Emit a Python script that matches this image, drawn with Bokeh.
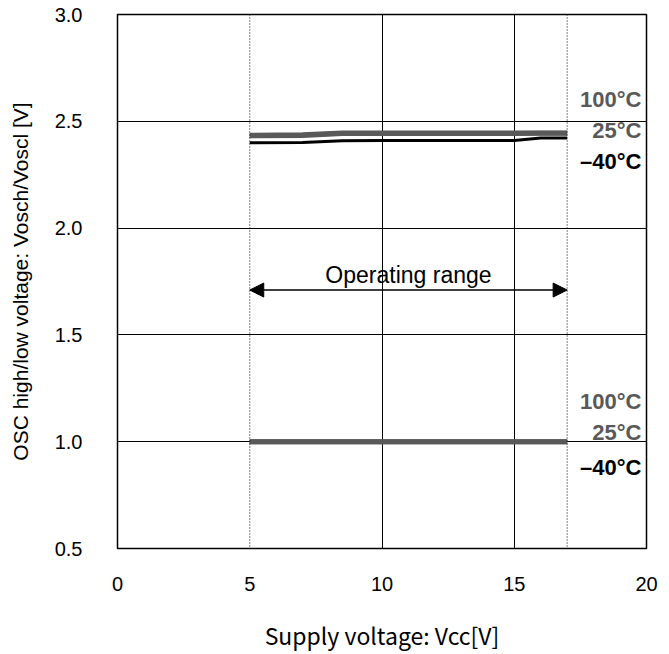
from bokeh.plotting import figure
from bokeh.models import (FixedTicker, PrintfTickFormatter, Span, Arrow, NormalHead, Label)
from bokeh.embed import file_html
from bokeh.resources import INLINE

# data
vcc = [5, 7, 8.5, 10, 15, 16, 17]
vosch_100 = [2.435, 2.437, 2.445, 2.445, 2.445, 2.445, 2.445]
vosch_25 = [2.432, 2.434, 2.443, 2.443, 2.443, 2.444, 2.444]
vosch_m40 = [2.400, 2.401, 2.409, 2.410, 2.410, 2.422, 2.422]
voscl_100 = [1.0, 1.0, 1.0, 1.0, 1.0, 1.0, 1.0]
voscl_25 = [1.0, 1.0, 1.0, 1.0, 1.0, 1.0, 1.0]
voscl_m40 = [0.999, 0.999, 0.999, 0.999, 0.999, 0.999, 0.999]
x_ticks = [0, 5, 10, 15, 20]
y_ticks = [0.5, 1.0, 1.5, 2.0, 2.5, 3.0]
op_range = [5, 17]
temps = ["100°C", "25°C", "\u201340°C"]
label_y_high = [2.60, 2.455, 2.31]
label_y_low = [1.19, 1.045, 0.88]

GRAY = "#595959"

p = figure(width=669, height=654, x_range=(0, 20), y_range=(0.5, 3.0),
           output_backend="svg", toolbar_location=None,
           min_border_left=117, min_border_right=23, min_border_top=14, min_border_bottom=106)

p.outline_line_color = "black"
p.outline_line_width = 1.5
p.background_fill_color = "white"
p.border_fill_color = "white"

p.xaxis.ticker = FixedTicker(ticks=x_ticks)
p.yaxis.ticker = FixedTicker(ticks=y_ticks)
p.yaxis.formatter = PrintfTickFormatter(format="%.1f")
for ax in (p.xaxis, p.yaxis):
    ax.axis_line_color = None
    ax.major_tick_line_color = None
    ax.minor_tick_line_color = None
    ax.major_label_text_font = "Liberation Sans"
    ax.major_label_text_font_size = "20px"
    ax.major_label_text_color = "black"
    ax.axis_label_text_font_style = "normal"
    ax.axis_label_text_color = "black"
p.xaxis.major_label_standoff = 22
p.yaxis.major_label_standoff = 29

p.xaxis.axis_label = "Supply voltage: Vcc[V]"
p.xaxis.axis_label_text_font = "Noto Sans CJK JP"
p.xaxis.axis_label_text_font_size = "23px"
p.xaxis.axis_label_standoff = 24
p.yaxis.axis_label = "OSC high/low voltage: Vosch/Voscl [V]"
p.yaxis.axis_label_text_font = "Liberation Sans"
p.yaxis.axis_label_text_font_size = "21px"
p.yaxis.axis_label_standoff = 20

p.xgrid.ticker = FixedTicker(ticks=[10, 15])
p.ygrid.ticker = FixedTicker(ticks=[1.0, 1.5, 2.0, 2.5])
p.xgrid.grid_line_color = "black"
p.ygrid.grid_line_color = "black"
p.xgrid.grid_line_width = 1
p.ygrid.grid_line_width = 1

for xv in op_range:
    p.add_layout(Span(location=xv, dimension="height", line_color="black",
                      line_width=1, line_dash="1 2"))

# curves
p.line(vcc, vosch_m40, line_color="black", line_width=3)
p.line(vcc, vosch_100, line_color=GRAY, line_width=5)
p.line(vcc, vosch_25, line_color=GRAY, line_width=5)
p.line(vcc, voscl_m40, line_color="black", line_width=3)
p.line(vcc, voscl_100, line_color=GRAY, line_width=5)
p.line(vcc, voscl_25, line_color=GRAY, line_width=5)

# operating range arrow
p.add_layout(Arrow(x_start=op_range[0], y_start=1.71, x_end=op_range[1], y_end=1.71,
                   line_color="black", line_width=1.5,
                   start=NormalHead(size=14, fill_color="black", line_color="black"),
                   end=NormalHead(size=14, fill_color="black", line_color="black")))
p.add_layout(Label(x=11.0, y=1.78, text="Operating range", text_align="center",
                   text_baseline="middle", text_font="Liberation Sans",
                   text_font_size="23px", text_color="black"))

# temperature labels
colors = [GRAY, GRAY, "black"]
for t, yh, yl, c in zip(temps, label_y_high, label_y_low, colors):
    for yy in (yh, yl):
        p.add_layout(Label(x=19.81, y=yy, text=t, text_align="right",
                           text_baseline="middle", text_font="Liberation Sans",
                           text_font_style="bold", text_font_size="22px",
                           text_color=c))

open("out.html", "w").write(file_html(p, INLINE))
